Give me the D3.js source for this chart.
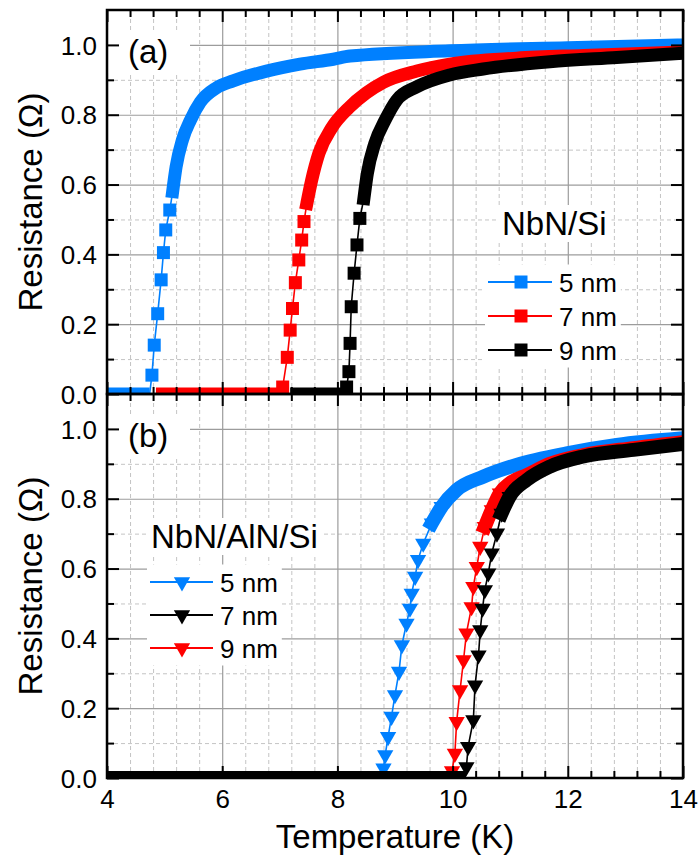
<!DOCTYPE html>
<html><head><meta charset="utf-8">
<script src="https://cdn.jsdelivr.net/npm/d3@7"></script>
<style>
body{margin:0;background:#fff}
svg{display:block}
text{font-family:"Liberation Sans",Arial,Helvetica,sans-serif;fill:#000}
</style>
</head><body>
<svg id="chart" width="699" height="856"></svg>
<script>
// ---------- DATA ----------
const xMajorTicks = [4, 6, 8, 10, 12, 14];
const yMajorTicks = [0, 0.2, 0.4, 0.6, 0.8, 1.0];
const yMinorTicks = [0.1, 0.3, 0.5, 0.7, 0.9];
const xLabel = "Temperature (K)";
const yLabel = "Resistance (\u03A9)";

// Panel (a) NbN/Si, square markers
const siTitle = "NbN/Si";
const siNames = ["5 nm", "7 nm", "9 nm"];
const siColors = ["#0080ff", "#ff0000", "#000000"];

const si5Base = [4.0, 4.74];
const si5T = [4.78, 4.82, 4.88, 4.94, 4.98, 5.02, 5.09];
const si5R = [0.054, 0.14, 0.23, 0.327, 0.405, 0.47, 0.527];
const si5BandT = [5.14, 5.20, 5.31, 5.45, 5.62, 5.90, 6.19, 6.77, 7.35, 7.93, 8.22, 9.95, 12.0, 14.0];
const si5BandR = [0.58, 0.651, 0.728, 0.785, 0.836, 0.877, 0.897, 0.925, 0.945, 0.959, 0.968, 0.983, 0.992, 1.0];

const si7Base = [4.85, 7.0];
const si7T = [7.05, 7.13, 7.18, 7.22, 7.27, 7.33, 7.38, 7.42];
const si7R = [0.02, 0.105, 0.183, 0.245, 0.319, 0.384, 0.441, 0.494];
const si7BandT = [7.47, 7.55, 7.68, 7.90, 8.20, 8.50, 8.80, 9.38, 9.95, 11.11, 12.27, 14.0];
const si7BandR = [0.546, 0.61, 0.69, 0.762, 0.82, 0.862, 0.893, 0.925, 0.945, 0.962, 0.97, 0.98];

const si9Base = [7.18, 8.12];
const si9T = [8.16, 8.20, 8.22, 8.24, 8.29, 8.34, 8.39];
const si9R = [0.02, 0.064, 0.145, 0.25, 0.346, 0.427, 0.503];
const si9BandT = [8.46, 8.52, 8.65, 8.83, 9.03, 9.38, 9.95, 10.53, 11.69, 12.85, 14.0];
const si9BandR = [0.56, 0.632, 0.718, 0.785, 0.842, 0.88, 0.914, 0.931, 0.952, 0.964, 0.976];

// Panel (b) NbN/AlN/Si, down-triangle markers
const alnTitle = "NbN/AlN/Si";
const alnNames = ["5 nm", "7 nm", "9 nm"];
const alnColors = ["#0080ff", "#000000", "#ff0000"];

const aln5Base = [4.0, 8.74];
const aln5T = [8.80, 8.83, 8.88, 8.94, 9.0, 9.07, 9.12, 9.20, 9.26, 9.29, 9.35, 9.40, 9.49, 9.64, 9.81];
const aln5R = [0.028, 0.066, 0.118, 0.176, 0.238, 0.305, 0.381, 0.443, 0.486, 0.529, 0.577, 0.625, 0.672, 0.73, 0.777];
const aln5BandT = [10.07, 10.53, 11.11, 11.98, 12.85, 14.0];
const aln5BandR = [0.825, 0.863, 0.897, 0.93, 0.954, 0.973];

const aln7Base = [4.0, 10.22];
const aln7T = [10.24, 10.27, 10.36, 10.39, 10.45, 10.48, 10.52, 10.56, 10.62, 10.68, 10.77, 10.85, 10.99];
const aln7R = [0.032, 0.09, 0.166, 0.266, 0.352, 0.424, 0.486, 0.539, 0.587, 0.644, 0.701, 0.758, 0.806];
const aln7BandT = [11.29, 11.69, 12.27, 13.14, 14.0];
const aln7BandR = [0.854, 0.892, 0.921, 0.94, 0.957];

const aln9Base = [9.85, 9.97];
const aln9T = [9.99, 10.04, 10.07, 10.13, 10.19, 10.24, 10.33, 10.36, 10.42, 10.48, 10.56, 10.68, 10.82];
const aln9R = [0.02, 0.07, 0.161, 0.252, 0.338, 0.415, 0.49, 0.548, 0.605, 0.663, 0.72, 0.768, 0.816];
const aln9BandT = [10.99, 11.29, 11.69, 12.27, 13.14, 14.0];
const aln9BandR = [0.844, 0.868, 0.9, 0.925, 0.945, 0.962];

// ---------- LAYOUT ----------
const svg = d3.select("#chart");
const L = 107, R = 683;
const x = d3.scaleLinear().domain([4, 14]).range([L, R]);
const xMinorTicks = d3.range(0, 26).filter(i => i % 5 !== 0).map(i => 4 + i * 0.4);
const FONT_TICK = 26, FONT_TITLE = 33, FONT_LEG = 26;

function mk(base, T, Rv, bT, bR, bandFrom, color, name) {
  return {base, T, R: Rv, bT, bR, bandFrom, color, name};
}

const panels = [
  {
    id: "a", top: 10, bottom: 394, label: "(a)", xLabels: false, symbol: d3.symbolSquare, symSize: 169, bandW: 13,
    series: [
      mk(si5Base, si5T, si5R, si5BandT, si5BandR, si5T.length, siColors[0], siNames[0]),
      mk(si7Base, si7T, si7R, si7BandT, si7BandR, si7T.length, siColors[1], siNames[1]),
      mk(si9Base, si9T, si9R, si9BandT, si9BandR, si9T.length, siColors[2], siNames[2])
    ],
    drawOrder: [0, 1, 2],
    legend: {title: siTitle, titleX: 502, titleY: 235, lineX0: 488, lineX1: 552, markX: 521, textX: 559, rows: [282, 316, 350], rot: 0}
  },
  {
    id: "b", top: 394, bottom: 778, label: "(b)", xLabels: true, symbol: d3.symbolTriangle, symSize: 115, bandW: 14,
    series: [
      mk(aln5Base, aln5T, aln5R, aln5BandT, aln5BandR, 13, alnColors[0], alnNames[0]),
      mk(aln7Base, aln7T, aln7R, aln7BandT, aln7BandR, 11, alnColors[1], alnNames[1]),
      mk(aln9Base, aln9T, aln9R, aln9BandT, aln9BandR, 10, alnColors[2], alnNames[2])
    ],
    drawOrder: [0, 2, 1],
    legend: {title: alnTitle, titleX: 151, titleY: 548, lineX0: 150, lineX1: 213, markX: 182, textX: 220, rows: [582, 615, 648], rot: 180}
  }
];

panels.forEach(p => {
  const y = d3.scaleLinear().domain([0, 1.1]).range([p.bottom, p.top]);
  const g = svg.append("g");
  const clipId = "clip-" + p.id;
  svg.append("defs").append("clipPath").attr("id", clipId)
    .append("rect").attr("x", L).attr("y", p.top).attr("width", R - L).attr("height", p.bottom - p.top);

  // ---- grid ----
  const grid = g.append("g");
  const gxMinor = grid.append("g").attr("transform", `translate(0,${p.bottom})`)
    .call(d3.axisBottom(x).tickValues(xMinorTicks).tickSize(-(p.bottom - p.top)).tickFormat(""));
  const gyMinor = grid.append("g").attr("transform", `translate(${L},0)`)
    .call(d3.axisLeft(y).tickValues(yMinorTicks).tickSize(-(R - L)).tickFormat(""));
  [gxMinor, gyMinor].forEach(a => {
    a.select(".domain").remove();
    a.selectAll("line").attr("stroke", "#c4c4c4").attr("stroke-width", 1).attr("stroke-dasharray", "4,3");
  });
  const gxMajor = grid.append("g").attr("transform", `translate(0,${p.bottom})`)
    .call(d3.axisBottom(x).tickValues(xMajorTicks).tickSize(-(p.bottom - p.top)).tickFormat(""));
  const gyMajor = grid.append("g").attr("transform", `translate(${L},0)`)
    .call(d3.axisLeft(y).tickValues(yMajorTicks).tickSize(-(R - L)).tickFormat(""));
  [gxMajor, gyMajor].forEach(a => {
    a.select(".domain").remove();
    a.selectAll("line").attr("stroke", "#9c9c9c").attr("stroke-width", 1.2);
  });

  // ---- data ----
  const data = g.append("g").attr("clip-path", `url(#${clipId})`);
  const lineThin = d3.line().x(d => x(d[0])).y(d => y(d[1]));
  const lineBand = d3.line().x(d => x(d[0])).y(d => y(d[1])).curve(d3.curveMonotoneX);
  const sym = d3.symbol().type(p.symbol).size(p.symSize);
  p.drawOrder.forEach(si => {
    const s = p.series[si];
    const pts = s.T.map((t, i) => [t, s.R[i]]);
    const bandPts = s.bT.map((t, i) => [t, s.bR[i]]);
    const lastT = s.T[s.T.length - 1];
    const base = [[s.base[0], 0], [s.base[1], 0]];
    const thin = base.concat(pts, bandPts.filter(d => d[0] > lastT));
    const sg = data.append("g");
    sg.append("path").attr("d", lineThin(thin)).attr("fill", "none")
      .attr("stroke", s.color).attr("stroke-width", 1.6);
    sg.append("path").attr("d", lineThin(base)).attr("fill", "none")
      .attr("stroke", s.color).attr("stroke-width", p.bandW);
    const band = pts.slice(s.bandFrom).concat(bandPts.filter(d => d[0] > (s.bandFrom < s.T.length ? lastT : -1)));
    sg.append("path").attr("d", lineBand(band)).attr("fill", "none")
      .attr("stroke", s.color).attr("stroke-width", p.bandW)
      .attr("stroke-linejoin", "round").attr("stroke-linecap", "square");
    sg.selectAll("path.m").data(pts).enter().append("path").attr("class", "m")
      .attr("d", sym)
      .attr("transform", d => `translate(${x(d[0])},${y(d[1])}) rotate(${p.legend.rot})`)
      .attr("fill", s.color);
  });

  // ---- label box (a)/(b) ----
  const lblY = p.top + 53;
  const lb = g.append("g");
  const lt = lb.append("text").attr("x", 128).attr("y", lblY).attr("font-size", FONT_TITLE).text(p.label);
  const lbb = lt.node().getBBox();
  lb.insert("rect", "text").attr("x", L + 1.5).attr("y", lbb.y - 3)
    .attr("width", 190 - L - 1.5).attr("height", lbb.height + 6).attr("fill", "#fff");

  // ---- legend ----
  const lg = p.legend;
  const tg = g.append("g");
  const tt = tg.append("text").attr("x", lg.titleX).attr("y", lg.titleY).attr("font-size", FONT_TITLE).text(lg.title);
  const tb = tt.node().getBBox();
  tg.insert("rect", "text").attr("x", tb.x - 5).attr("y", tb.y).attr("width", tb.width + 10).attr("height", tb.height).attr("fill", "#fff");

  const eg = g.append("g");
  const bgRect = eg.append("rect").attr("fill", "#fff");
  [0, 1, 2].forEach(k => {
    const s = p.series[k];
    const cy = lg.rows[k];
    eg.append("line").attr("x1", lg.lineX0).attr("x2", lg.lineX1).attr("y1", cy).attr("y2", cy)
      .attr("stroke", s.color).attr("stroke-width", 2);
    eg.append("path").attr("d", sym).attr("transform", `translate(${lg.markX},${cy}) rotate(${lg.rot})`).attr("fill", s.color);
    eg.append("text").attr("x", lg.textX).attr("y", cy + 9.5).attr("font-size", FONT_LEG).text(s.name);
  });
  const eb = eg.node().getBBox();
  bgRect.attr("x", eb.x - 3).attr("y", eb.y - 3).attr("width", eb.width + 7).attr("height", eb.height + 5);

  // ---- axes (ticks inward) ----
  const axes = g.append("g");
  const mkAx = (axis, tr) => {
    const a = axes.append("g").attr("transform", tr).call(axis);
    a.select(".domain").remove();
    a.selectAll("line").attr("stroke", "#000").attr("stroke-width", 2);
    return a;
  };
  const aLeft = mkAx(d3.axisLeft(y).tickValues(yMajorTicks).tickSize(-12).tickPadding(10).tickFormat(d3.format(".1f")), `translate(${L},0)`);
  aLeft.selectAll("text").attr("font-size", FONT_TICK).attr("fill", "#000").attr("dy", "0.35em")
    .style("font-family", '"Liberation Sans",Arial,sans-serif');
  mkAx(d3.axisLeft(y).tickValues(yMinorTicks).tickSize(-7).tickFormat(""), `translate(${L},0)`);
  mkAx(d3.axisRight(y).tickValues(yMajorTicks).tickSize(-12).tickFormat(""), `translate(${R},0)`);
  mkAx(d3.axisRight(y).tickValues(yMinorTicks).tickSize(-7).tickFormat(""), `translate(${R},0)`);
  mkAx(d3.axisTop(x).tickValues(xMajorTicks).tickSize(-12).tickFormat(""), `translate(0,${p.top})`);
  mkAx(d3.axisTop(x).tickValues(xMinorTicks).tickSize(-7).tickFormat(""), `translate(0,${p.top})`);
  const aBot = mkAx(d3.axisBottom(x).tickValues(xMajorTicks).tickSize(-12).tickPadding(12)
    .tickFormat(p.xLabels ? d3.format("d") : ""), `translate(0,${p.bottom})`);
  aBot.selectAll("text").attr("font-size", FONT_TICK).attr("fill", "#000")
    .style("font-family", '"Liberation Sans",Arial,sans-serif');
  mkAx(d3.axisBottom(x).tickValues(xMinorTicks).tickSize(-7).tickFormat(""), `translate(0,${p.bottom})`);

  // frame
  g.append("rect").attr("x", L).attr("y", p.top).attr("width", R - L).attr("height", p.bottom - p.top)
    .attr("fill", "none").attr("stroke", "#000").attr("stroke-width", 2.5);

  // y title
  g.append("text").attr("transform", `translate(42,${(p.top + p.bottom) / 2}) rotate(-90)`)
    .attr("text-anchor", "middle").attr("font-size", FONT_TITLE).text(yLabel);
});

// x title
svg.append("text").attr("x", (L + R) / 2).attr("y", 848).attr("text-anchor", "middle")
  .attr("font-size", FONT_TITLE).text(xLabel);
</script>
</body></html>
